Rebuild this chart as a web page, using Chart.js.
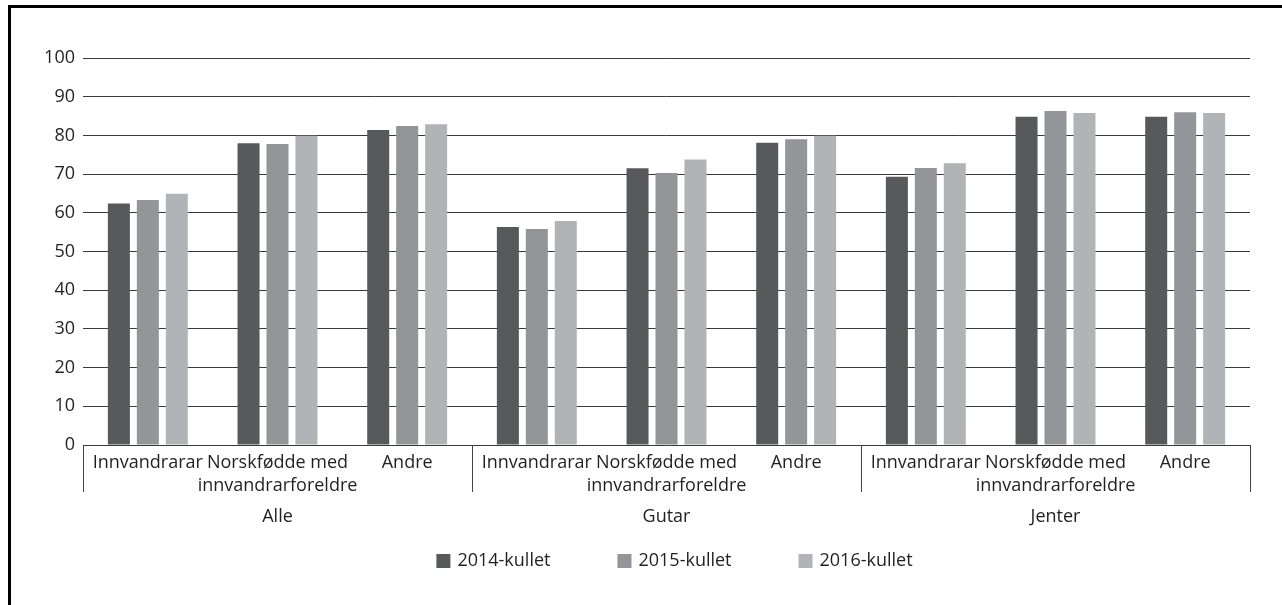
<!DOCTYPE html>
<html>
<head>
<meta charset="utf-8">
<script src="https://cdn.jsdelivr.net/npm/chart.js@4/dist/chart.umd.min.js"></script>
<style>
    html, body { margin: 0; padding: 0; background: #fff; }
    #wrap { position: relative; width: 1282px; height: 605px; overflow: hidden; }
    #frame {
        position: absolute; left: 8px; top: 5px; width: 1400px; height: 700px;
        border-left: 3px solid #000; border-top: 3px solid #000;
    }
    canvas { position: absolute; left: 0; top: 0; }
</style>
</head>
<body>
<div id="wrap">
    <div id="frame"></div>
    <canvas id="chart" width="1282" height="605"></canvas>
</div>
<script>
// categories (multi-line labels) and groups
const categories = [
    ["Innvandrarar"], ["Norskfødde med", "innvandrarforeldre"], ["Andre"],
    ["Innvandrarar"], ["Norskfødde med", "innvandrarforeldre"], ["Andre"],
    ["Innvandrarar"], ["Norskfødde med", "innvandrarforeldre"], ["Andre"]
];
const groups = ["Alle", "Gutar", "Jenter"];
const seriesNames = ["2014-kullet", "2015-kullet", "2016-kullet"];
const seriesColors = ["#58595b", "#939598", "#b1b3b6"];

const kull2014 = [62.4, 78.0, 81.4, 56.3, 71.5, 78.1, 69.3, 84.8, 84.8];
const kull2015 = [63.3, 77.8, 82.4, 55.8, 70.3, 79.0, 71.6, 86.3, 86.0];
const kull2016 = [64.9, 79.9, 82.9, 57.9, 73.8, 79.9, 72.8, 85.8, 85.8];

const yMin = 0, yMax = 100, yStep = 10;

const FONT = "'Open Sans', sans-serif";
const TEXT = "#231f20";

// separators under axis, group labels and legend
const extrasPlugin = {
    id: "extras",
    afterDraw(chart) {
        const ctx = chart.ctx;
        const area = chart.chartArea;
        const x = chart.scales.x;
        const per = categories.length / groups.length;
        ctx.save();
        ctx.strokeStyle = "#444";
        ctx.lineWidth = 1;
        // vertical separators
        for (let g = 0; g <= groups.length; g++) {
            let px;
            if (g === 0) px = area.left;
            else if (g === groups.length) px = area.right;
            else px = (x.getPixelForValue(g * per - 1) + x.getPixelForValue(g * per)) / 2;
            px = Math.round(px) + 0.5;
            ctx.beginPath();
            ctx.moveTo(px, area.bottom);
            ctx.lineTo(px, area.bottom + 47);
            ctx.stroke();
        }
        // group labels
        ctx.fillStyle = TEXT;
        ctx.font = "18px " + FONT;
        ctx.textAlign = "center";
        ctx.textBaseline = "middle";
        groups.forEach((g, i) => {
            const cx = x.getPixelForValue(i * per + (per - 1) / 2);
            ctx.fillText(g, cx, area.bottom + 72);
        });
        // legend
        const box = 14, gapText = 7, gapItem = 67;
        ctx.textAlign = "left";
        const widths = chart.data.datasets.map(d => box + gapText + ctx.measureText(d.label).width);
        const total = widths.reduce((a, b) => a + b, 0) + gapItem * (widths.length - 1);
        let lx = (area.left + area.right) / 2 + 8 - total / 2;
        const ly = area.bottom + 116;
        chart.data.datasets.forEach((d, i) => {
            ctx.fillStyle = d.backgroundColor;
            ctx.fillRect(lx, ly - box / 2, box, box);
            ctx.fillStyle = TEXT;
            ctx.fillText(d.label, lx + box + gapText, ly);
            lx += widths[i] + gapItem;
        });
        ctx.restore();
    }
};

new Chart(document.getElementById("chart"), {
    type: "bar",
    data: {
        labels: categories,
        datasets: [kull2014, kull2015, kull2016].map((vals, i) => ({
            label: seriesNames[i],
            data: vals,
            backgroundColor: seriesColors[i],
            categoryPercentage: 0.67,
            barPercentage: 0.76
        }))
    },
    options: {
        responsive: false,
        animation: false,
        layout: { padding: { left: 0, right: 32, top: 58, bottom: 0 } },
        plugins: { legend: { display: false }, tooltip: { enabled: false } },
        scales: {
            x: {
                grid: { display: false, drawTicks: false },
                border: { display: false },
                ticks: {
                    color: TEXT, font: { family: FONT, size: 18, lineHeight: 1.3 },
                    padding: 6, maxRotation: 0, autoSkip: false
                },
                afterFit(scale) { scale.height = 160; }
            },
            y: {
                min: yMin, max: yMax,
                grid: { color: "#3a3a3a", lineWidth: 1, drawTicks: false },
                border: { display: false },
                ticks: {
                    stepSize: yStep, color: TEXT, padding: 8,
                    font: { family: FONT, size: 18 }
                },
                afterFit(scale) { scale.width = 83; }
            }
        }
    },
    plugins: [extrasPlugin]
});
</script>
</body>
</html>
